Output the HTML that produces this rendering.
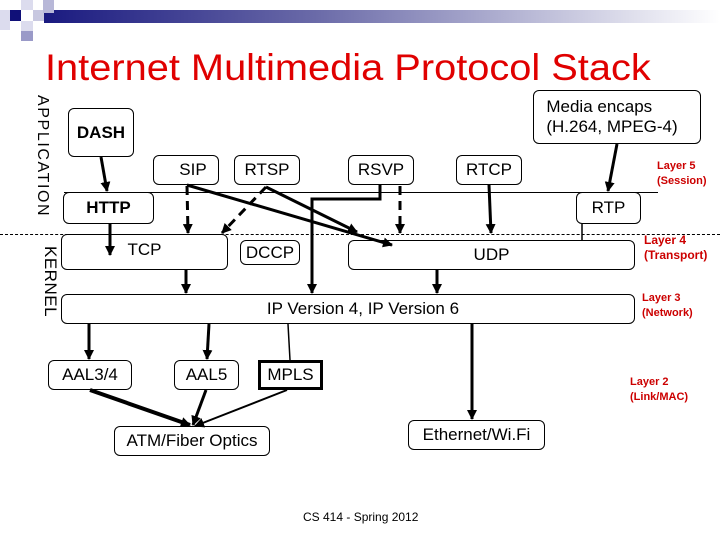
<!DOCTYPE html>
<html><head><style>
body{margin:0;width:720px;height:540px;background:#fff;overflow:hidden;position:relative;font-family:"Liberation Sans",sans-serif}
.b{position:absolute;border:1px solid #000;border-radius:6px;box-sizing:border-box;display:flex;align-items:center;justify-content:center;font-size:17px;background:#fff}
.t{position:absolute;white-space:nowrap}
.r{position:absolute;color:#c00;font-size:11px;font-weight:bold;line-height:15px}
</style></head><body>
<div style="position:absolute;left:44px;top:10px;width:676px;height:13px;background:linear-gradient(to right,#1a1a80,#6a6aa8 40%,#fff)"></div>
<div style="position:absolute;left:0;top:10px;width:10px;height:20px;background:#dcdcee"></div>
<div style="position:absolute;left:21px;top:0;width:12px;height:10px;background:#dcdcee"></div>
<div style="position:absolute;left:33px;top:10px;width:11px;height:11px;background:#c8c8e0"></div>
<div style="position:absolute;left:43px;top:0;width:11px;height:13px;background:#b8b8d8"></div>
<div style="position:absolute;left:21px;top:21px;width:12px;height:10px;background:#dcdcee"></div>
<div style="position:absolute;left:21px;top:31px;width:12px;height:10px;background:#9a9ac8"></div>
<div style="position:absolute;left:10px;top:10px;width:11px;height:11px;background:#101078"></div>
<div class="t" style="left:45px;top:47px;font-size:37px;color:#e00000;transform-origin:0 0;transform:scaleX(1.075)">Internet Multimedia Protocol Stack</div>
<div class="t" style="left:36px;top:95px;transform-origin:0 0;transform:rotate(90deg) translateY(-15px);font-size:16px;letter-spacing:1.6px">APPLICATION</div>
<div class="t" style="left:42px;top:246px;transform-origin:0 0;transform:rotate(90deg) translateY(-18px);font-size:17px;letter-spacing:0.5px">KERNEL</div>
<div style="position:absolute;left:64px;top:192px;width:594px;border-top:1px solid #000"></div>
<div style="position:absolute;left:0;top:234px;width:720px;border-top:1px dashed #000"></div>
<div class="b" style="left:68px;top:108px;width:66px;height:49px;font-weight:bold">DASH</div>
<div class="b" style="left:153px;top:155px;width:66px;height:30px;padding-left:14px">SIP</div>
<div class="b" style="left:234px;top:155px;width:66px;height:30px">RTSP</div>
<div class="b" style="left:348px;top:155px;width:66px;height:30px">RSVP</div>
<div class="b" style="left:456px;top:155px;width:66px;height:30px">RTCP</div>
<div class="b" style="left:533px;top:90px;width:168px;height:54px;line-height:20px;padding-right:10px">Media encaps<br>(H.264, MPEG-4)</div>
<div class="b" style="left:63px;top:192px;width:91px;height:32px;font-weight:bold">HTTP</div>
<div class="b" style="left:576px;top:192px;width:65px;height:32px">RTP</div>
<div class="b" style="left:61px;top:234px;width:167px;height:36px;align-items:flex-start;padding-top:5px">TCP</div>
<div class="b" style="left:240px;top:240px;width:60px;height:25px">DCCP</div>
<div class="b" style="left:348px;top:240px;width:287px;height:30px">UDP</div>
<div class="b" style="left:61px;top:294px;width:574px;height:30px;padding-left:30px">IP Version 4, IP Version 6</div>
<div class="b" style="left:48px;top:360px;width:84px;height:30px">AAL3/4</div>
<div class="b" style="left:174px;top:360px;width:65px;height:30px">AAL5</div>
<div class="b" style="left:258px;top:360px;width:65px;height:30px;border:3px solid #000;border-radius:0">MPLS</div>
<div class="b" style="left:114px;top:426px;width:156px;height:30px">ATM/Fiber Optics</div>
<div class="b" style="left:408px;top:420px;width:137px;height:30px">Ethernet/Wi.Fi</div>
<div class="r" style="left:657px;top:159px">Layer 5<br>(Session)</div>
<div class="r" style="left:644px;top:233px;font-size:12px">Layer 4<br>(Transport)</div>
<div class="r" style="left:642px;top:291px">Layer 3<br>(Network)</div>
<div class="r" style="left:630px;top:375px">Layer 2<br>(Link/MAC)</div>
<div class="t" style="left:303px;top:510px;font-size:12px">CS 414 - Spring 2012</div>
<svg width="720" height="540" style="position:absolute;left:0;top:0">
<defs><marker id="s" markerWidth="10" markerHeight="10" refX="9" refY="5" orient="auto" markerUnits="userSpaceOnUse"><path d="M0,0L10,5L0,10z"/></marker></defs>
<g stroke="#000" stroke-width="3" fill="none" marker-end="url(#s)">
<path d="M101,157L107,191"/><path d="M110,224L110,255"/>
<path d="M187,186L188,233" stroke-dasharray="9,6"/>
<path d="M187,185L392,245"/>
<path d="M266,187L222,233" stroke-dasharray="9,6"/>
<path d="M266,187L357,232"/>
<path d="M380,185L380,199L312,199L312,293"/>
<path d="M400,186L400,233" stroke-dasharray="9,6"/>
<path d="M489,185L491,233"/>
<path d="M617,144L608,191"/>
<path d="M186,270L186,293"/><path d="M437,270L437,293"/>
<path d="M89,324L89,359"/><path d="M209,324L207,359"/>
<path d="M472,324L472,419"/>
<path d="M90,390L190,425" stroke-width="4"/>
<path d="M206,390L193,425"/>
<path d="M287,390L195,426" stroke-width="2"/>
</g>
<path d="M582,224L582,240M288,324L290,360" stroke="#000" stroke-width="1.5"/>
</svg>
</body></html>
